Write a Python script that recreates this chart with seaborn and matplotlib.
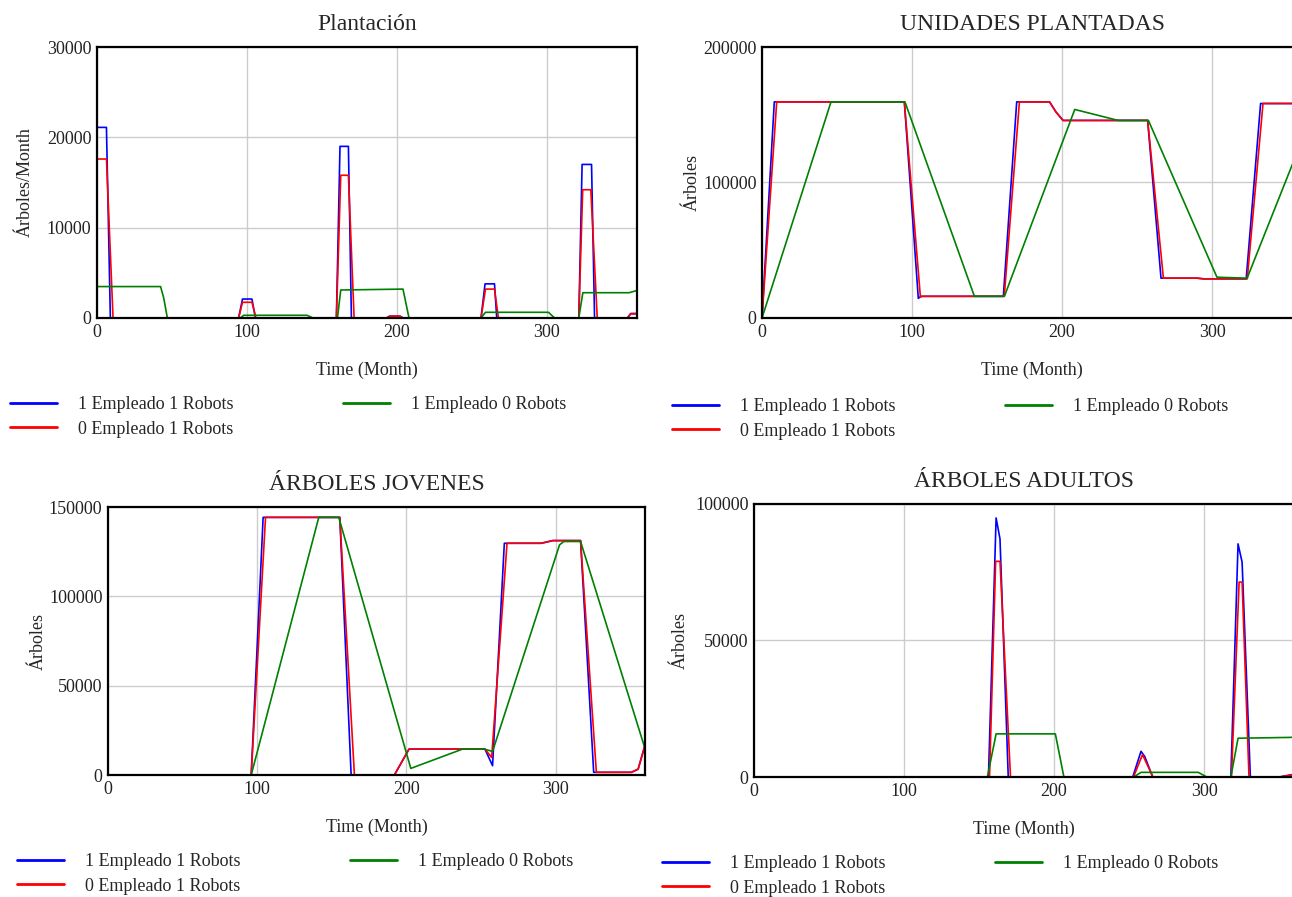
import matplotlib
matplotlib.use("Agg")
import matplotlib.pyplot as plt
import pandas as pd
import seaborn as sns

SERIES = ["1 Empleado 1 Robots", "0 Empleado 1 Robots", "1 Empleado 0 Robots"]
COLORS = {"1 Empleado 1 Robots": "#0000ff",
          "0 Empleado 1 Robots": "#ff0000",
          "1 Empleado 0 Robots": "#008000"}

# Plantación (Árboles/Month)
plant_t_a = [0, 6.3, 8.9, 94.4, 97, 103.3, 105.6, 159.6, 162, 167.6, 169.6, 193, 195, 202, 204,
             256, 258.7, 265, 266.5, 321.2, 323.4, 329.7, 331.7, 353.6, 355.8, 360]
plant_v_a = [21100, 21100, 0, 0, 2100, 2100, 0, 0, 19000, 19000, 0, 0, 200, 200, 0,
             0, 3780, 3780, 0, 0, 17000, 17000, 0, 0, 500, 500]
plant_t_b = [0, 6.3, 10.7, 94.4, 97, 103.3, 106, 159.6, 162.5, 167.6, 171.4, 193, 195, 202, 204,
             256, 259, 265, 267.6, 321.2, 323.8, 329.2, 333.5, 353.6, 355.8, 360]
plant_v_b = [17600, 17600, 0, 0, 1740, 1740, 0, 0, 15800, 15800, 0, 0, 200, 200, 0,
             0, 3200, 3200, 0, 0, 14200, 14200, 0, 0, 450, 450]
plant_t_c = [0, 42.4, 44.5, 46.9, 95.5, 97.8, 140, 144, 160.3, 162.5, 204, 206, 208,
             256, 259, 301, 305, 321.2, 323.9, 354.7, 359, 360]
plant_v_c = [3480, 3480, 2200, 0, 0, 300, 300, 0, 0, 3100, 3200, 1600, 0,
             0, 630, 630, 0, 0, 2800, 2800, 3000, 3000]

# UNIDADES PLANTADAS (Árboles)
unid_t_a = [0, 8.2, 94.9, 104.2, 106, 160.9, 169.8, 191.7, 196, 200.7, 257.1, 266, 290, 294.4,
            322.8, 332.4, 353.6, 360]
unid_v_a = [0, 159500, 159500, 14500, 16000, 16000, 159500, 159500, 152000, 145800, 145800,
            29400, 29400, 28900, 28900, 158300, 158300, 156000]
unid_t_b = [0, 9.8, 94.9, 105.6, 107, 161.5, 171.6, 191.7, 196, 200.7, 257.1, 267.6, 290, 294.4,
            323.5, 334, 353.6, 360]
unid_v_b = [0, 159500, 159500, 15500, 16000, 16000, 159500, 159500, 152000, 145800, 145800,
            29400, 29400, 28900, 28900, 158300, 158300, 156000]
unid_t_c = [0, 46, 95.3, 141.6, 161.6, 208.5, 237.5, 257.6, 303.3, 323.4, 354.9, 360]
unid_v_c = [0, 159500, 159500, 16000, 16000, 153900, 145800, 145800, 30100, 29400, 117000, 131000]

# ÁRBOLES JOVENES (Árboles)
jov_t_a = [0, 96, 104, 155.4, 163, 192, 201.8, 252.7, 257.8, 265.7, 290.4, 298.2, 316.8,
           325.6, 350.9, 355.4, 360]
jov_v_a = [0, 0, 144200, 144200, 0, 0, 14500, 14500, 5200, 129700, 129700, 131200, 131200,
           1500, 1500, 3300, 16700]
jov_t_b = [0, 96, 105.6, 155.4, 165.2, 192, 201.8, 252.7, 257.2, 267.5, 290.4, 298.2, 316.8,
           327.4, 350.9, 355.4, 360]
jov_v_b = [0, 0, 144200, 144200, 0, 0, 14500, 14500, 9800, 129700, 129700, 131200, 131200,
           1500, 1500, 3300, 16700]
jov_t_c = [0, 96, 141.3, 154.7, 203, 237.7, 252.2, 257.8, 302.7, 305.6, 316.8, 359.4, 360]
jov_v_c = [0, 0, 144200, 144200, 3700, 14500, 14500, 13200, 128800, 130700, 130700, 16400, 15500]

# ÁRBOLES ADULTOS (Árboles)
adu_t_a = [0, 156.3, 161.4, 164, 169.5, 252.5, 258, 260.5, 265.8, 317.9, 322.7, 325.4, 330.9,
           350.3, 360]
adu_v_a = [0, 0, 94900, 87200, 0, 0, 9400, 7500, 0, 0, 85400, 78700, 0, 0, 1000]
adu_t_b = [0, 157, 161.1, 164, 171, 253, 259, 266, 318.3, 323.4, 325.4, 330, 350.3, 360]
adu_v_b = [0, 0, 79000, 79000, 0, 0, 8200, 0, 0, 71400, 71400, 0, 0, 900]
adu_t_c = [0, 155.6, 161.4, 200.9, 206.6, 253.2, 258, 296.2, 301.8, 317.9, 322.7, 357.2, 360]
adu_v_c = [0, 0, 15800, 15800, 0, 0, 1700, 1700, 0, 0, 14200, 14500, 14600]

X_TICKS = [0, 100, 200, 300]


def long_frame(pairs):
    rows = []
    for name, (t, v) in zip(SERIES, pairs):
        for i, (ti, vi) in enumerate(zip(t, v)):
            rows.append({"t": ti, "v": vi, "serie": name, "i": i})
    return pd.DataFrame(rows)


# rect = left, top, width, height in pixels; ylab = distance of y label from the axis
panels = [
    {"title": "Plantación", "ylabel": "Árboles/Month", "yticks": [0, 10000, 20000, 30000],
     "pairs": [(plant_t_a, plant_v_a), (plant_t_b, plant_v_b), (plant_t_c, plant_v_c)],
     "rect": [97, 47, 540, 271], "leg": (10, 396), "ylab": 63},
    {"title": "UNIDADES PLANTADAS", "ylabel": "Árboles", "yticks": [0, 100000, 200000],
     "pairs": [(unid_t_a, unid_v_a), (unid_t_b, unid_v_b), (unid_t_c, unid_v_c)],
     "rect": [762, 47, 540, 271], "leg": (672, 398), "ylab": 61},
    {"title": "ÁRBOLES JOVENES", "ylabel": "Árboles", "yticks": [0, 50000, 100000, 150000],
     "pairs": [(jov_t_a, jov_v_a), (jov_t_b, jov_v_b), (jov_t_c, jov_v_c)],
     "rect": [108, 507, 537, 268], "leg": (17, 853), "ylab": 61},
    {"title": "ÁRBOLES ADULTOS", "ylabel": "Árboles", "yticks": [0, 50000, 100000],
     "pairs": [(adu_t_a, adu_v_a), (adu_t_b, adu_v_b), (adu_t_c, adu_v_c)],
     "rect": [754, 504, 540, 273], "leg": (662, 855), "ylab": 65},
]

sns.set_theme(style="white")
plt.rcParams["font.family"] = ["Liberation Serif", "DejaVu Serif"]

W, H = 1292, 897
fig = plt.figure(figsize=(W / 100, H / 100), dpi=100)

for p in panels:
    x0, y0, w, h = p["rect"]
    ax = fig.add_axes([x0 / W, 1 - (y0 + h) / H, w / W, h / H])
    df = long_frame(p["pairs"])
    sns.lineplot(data=df, x="t", y="v", hue="serie", hue_order=SERIES, palette=COLORS,
                 estimator=None, units="serie", sort=False, linewidth=1.2, ax=ax)

    ax.set_xlim(0, 360)
    ax.set_ylim(p["yticks"][0], p["yticks"][-1])
    ax.set_xticks(X_TICKS)
    ax.set_yticks(p["yticks"])
    ax.set_yticklabels([str(v) for v in p["yticks"]])
    ax.grid(True, color="#cccccc", linewidth=1.0)
    ax.set_axisbelow(True)
    ax.tick_params(length=0, labelsize=13, colors="#222222", pad=4)
    for s in ax.spines.values():
        s.set_color("black")
        s.set_linewidth(1.6)

    ax.set_title(p["title"], fontsize=17, pad=12)
    ax.set_xlabel("Time (Month)", fontsize=13)
    ax.set_ylabel(p["ylabel"], fontsize=13)
    ax.yaxis.set_label_coords(-p["ylab"] / w, 0.5)
    ax.xaxis.set_label_coords(0.5, -44 / h)

    handles, labels = ax.get_legend_handles_labels()
    lx, ly = p["leg"]
    leg = ax.legend(handles, labels, loc="upper left", bbox_to_anchor=(lx / W, 1 - ly / H),
                    bbox_transform=fig.transFigure, ncol=2, frameon=False, fontsize=13,
                    borderpad=0, borderaxespad=0, handlelength=2.6, handletextpad=1.15,
                    columnspacing=6.1, labelspacing=0.42)
    for line in leg.get_lines():
        line.set_linewidth(2.0)

fig.savefig("out.png", dpi=100, facecolor="white")
